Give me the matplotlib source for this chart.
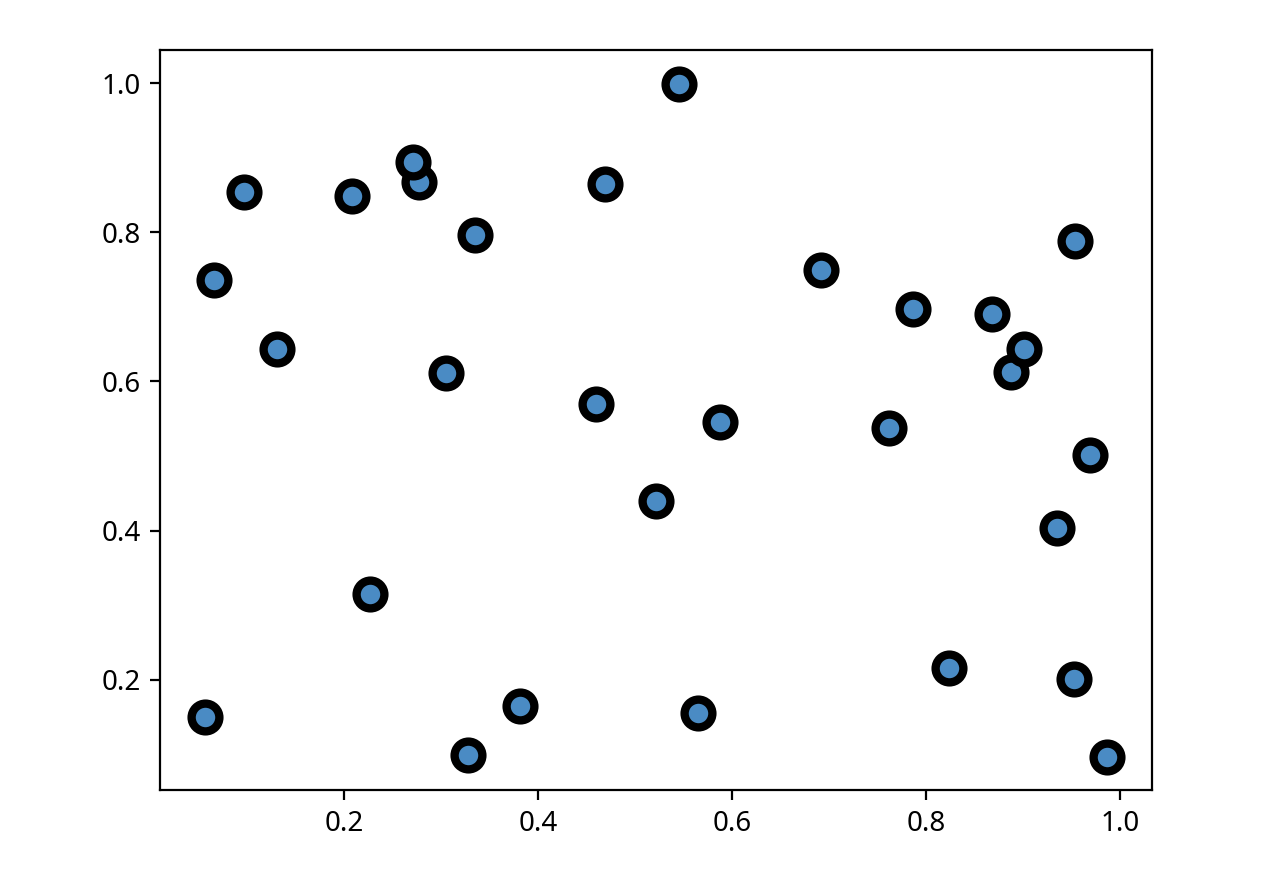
import matplotlib
matplotlib.use("Agg")
import matplotlib.pyplot as plt

plt.rcParams["font.family"] = ["Noto Sans", "DejaVu Sans"]

x = [0.057, 0.066, 0.097, 0.131, 0.208, 0.227, 0.277, 0.271, 0.305, 0.328,
     0.335, 0.381, 0.460, 0.469, 0.522, 0.545, 0.565, 0.587, 0.691, 0.762,
     0.786, 0.823, 0.868, 0.887, 0.901, 0.935, 0.952, 0.953, 0.969, 0.986]
y = [0.150, 0.736, 0.854, 0.644, 0.848, 0.315, 0.867, 0.894, 0.611, 0.099,
     0.796, 0.165, 0.570, 0.864, 0.440, 0.999, 0.156, 0.546, 0.750, 0.537,
     0.697, 0.216, 0.691, 0.612, 0.644, 0.403, 0.201, 0.788, 0.501, 0.097]

fig = plt.figure(figsize=(6.4, 4.4), dpi=200)
ax = fig.add_axes([0.125, 0.102, 0.775, 0.841])
ax.scatter(x, y, s=100, c="#4a8bc4", edgecolors="black", linewidths=3)
ax.set_xticks([0.2, 0.4, 0.6, 0.8, 1.0])
ax.set_yticks([0.2, 0.4, 0.6, 0.8, 1.0])
fig.savefig("out.png", dpi=200)
